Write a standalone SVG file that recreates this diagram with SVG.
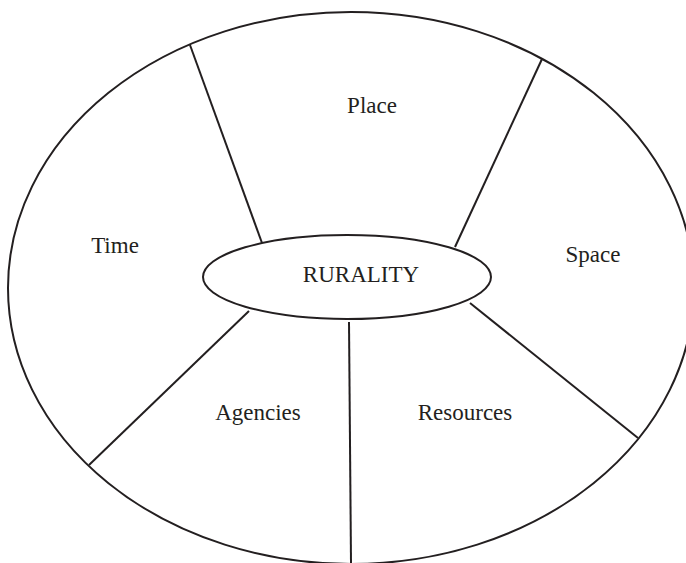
<svg xmlns="http://www.w3.org/2000/svg" width="686" height="563" viewBox="0 0 686 563">
<style>
.ln{stroke:#231f20;stroke-width:2;fill:none}
.sh{stroke:#231f20;stroke-width:2;fill:#fff}
text{font-family:"Liberation Serif","Times New Roman",serif;font-size:23px;fill:#231f20;text-anchor:middle}
</style>
<rect width="686" height="563" fill="#fff"/>
<g id="outer"><ellipse class="ln" cx="351" cy="288" rx="343" ry="276"/></g>
<g id="connectors">
<line class="ln" x1="190" y1="45" x2="262" y2="243"/>
<line class="ln" x1="542" y1="59" x2="455" y2="247"/>
<line class="ln" x1="470" y1="303" x2="638" y2="438"/>
<line class="ln" x1="349" y1="322" x2="351" y2="563"/>
<line class="ln" x1="249" y1="311" x2="89" y2="465"/>
</g>
<g id="rurality"><ellipse class="sh" cx="347" cy="277" rx="144" ry="42"/><text x="361" y="282">RURALITY</text></g>
<g id="place"><text x="372" y="113">Place</text></g>
<g id="time"><text x="115" y="253">Time</text></g>
<g id="space"><text x="593" y="262">Space</text></g>
<g id="agencies"><text x="258" y="420">Agencies</text></g>
<g id="resources"><text x="465" y="420">Resources</text></g>
</svg>
